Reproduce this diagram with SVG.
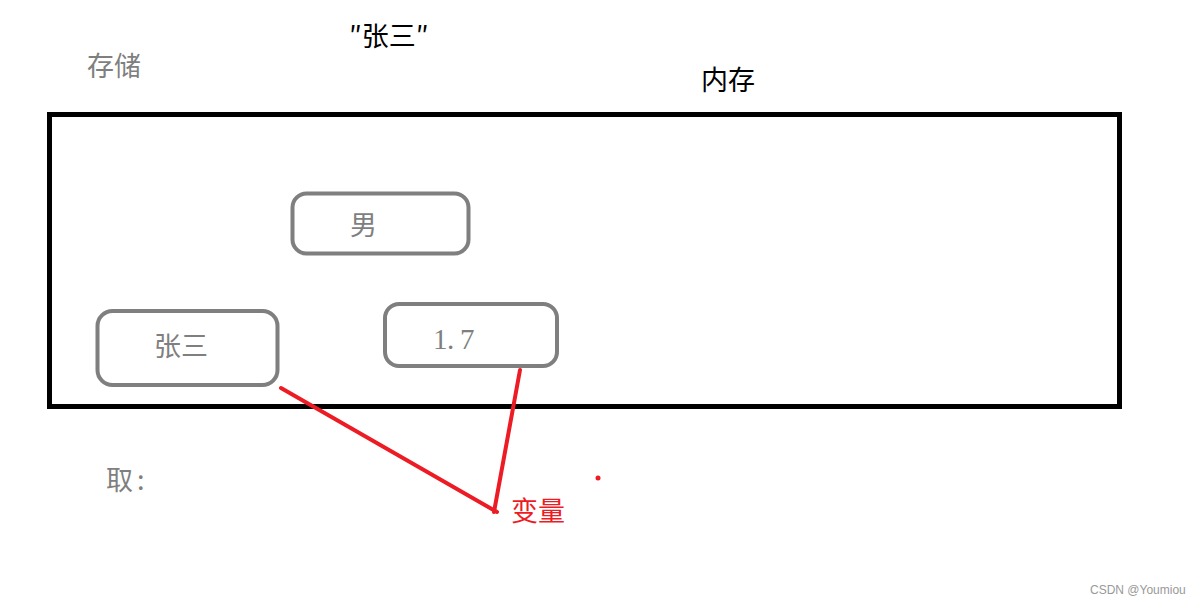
<svg xmlns="http://www.w3.org/2000/svg" width="1203" height="604" viewBox="0 0 1203 604">
<style>
.cjk{font-family:"Noto Sans CJK SC","Liberation Sans",sans-serif;font-size:27px}
.gray{fill:#7f7f7f}
.black{fill:#000}
.red{fill:#ed1c24}
.box{fill:none;stroke:#7f7f7f;stroke-width:4}
.conn{stroke:#ed1c24;stroke-width:4;stroke-linecap:round;fill:none}
</style>
<rect width="1203" height="604" fill="#fff"/>
<g id="labels">
<text class="cjk gray" x="87" y="76">存储</text>
<text class="cjk black" x="349" y="46">″张三″</text>
<text class="cjk black" x="701" y="90">内存</text>
<text class="cjk gray" x="106" y="490" font-size="26">取<tspan x="137">:</tspan></text>
<text class="cjk red" x="511" y="521">变量</text>
</g>
<g id="memory">
<rect x="49.5" y="114.5" width="1070" height="292" fill="none" stroke="#000" stroke-width="5"/>
</g>
<g id="node-nan">
<rect class="box" x="292.5" y="193.5" width="176" height="60" rx="14"/>
<text class="cjk gray" x="350" y="235" font-size="25">男</text>
</g>
<g id="node-zhangsan">
<rect class="box" x="97.5" y="311" width="180" height="74" rx="15"/>
<text class="cjk gray" x="154" y="356">张三</text>
</g>
<g id="node-height">
<rect class="box" x="385" y="304" width="172" height="62" rx="14"/>
<text class="gray" font-family="Liberation Serif, serif" font-size="29" x="433 447 460" y="349">1.7</text>
</g>
<g id="connectors">
<line class="conn" x1="281" y1="388" x2="497" y2="512"/>
<line class="conn" x1="520" y1="370" x2="494" y2="512"/>
<circle cx="598" cy="478" r="2.5" fill="#ed1c24"/>
</g>
<g id="watermark">
<text x="1090" y="594" font-family="Liberation Sans, sans-serif" font-size="12" fill="#999">CSDN @Youmiou</text>
</g>
</svg>
